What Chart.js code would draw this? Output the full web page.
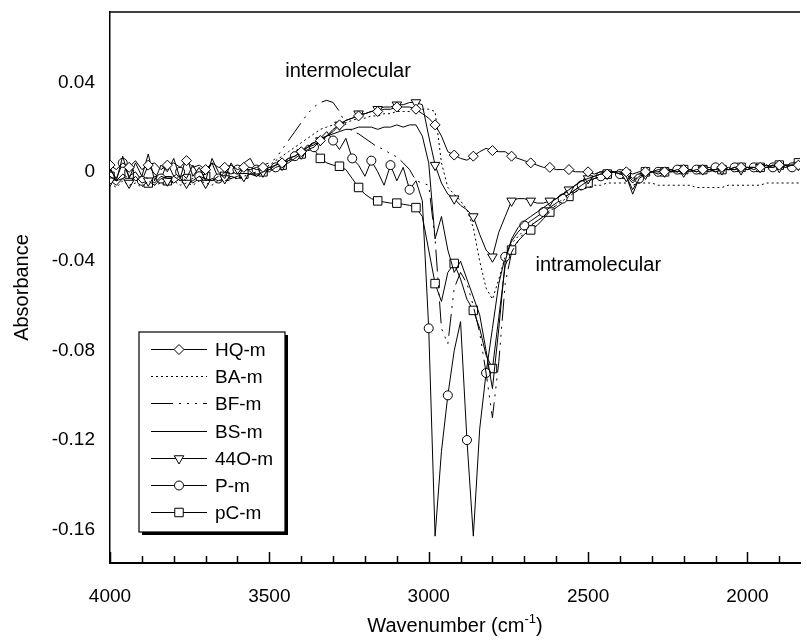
<!DOCTYPE html>
<html>
<head>
<meta charset="utf-8">
<script src="https://cdn.jsdelivr.net/npm/chart.js@4.4.1/dist/chart.umd.min.js"></script>
<style>
  html, body { margin: 0; padding: 0; background: #fff; }
  #wrap { width: 807px; height: 643px; position: relative; }
</style>
</head>
<body>
<div id="wrap"><canvas id="irchart"></canvas></div>
<script>
// Data block (every 20 cm-1)
const wavenumbers = [
  4000, 3980, 3960, 3940, 3920, 3900, 3880, 3860, 3840, 3820,
  3800, 3780, 3760, 3740, 3720, 3700, 3680, 3660, 3640, 3620,
  3600, 3580, 3560, 3540, 3520, 3500, 3480, 3460, 3440, 3420,
  3400, 3380, 3360, 3340, 3320, 3300, 3280, 3260, 3240, 3220,
  3200, 3180, 3160, 3140, 3120, 3100, 3080, 3060, 3040, 3020,
  3000, 2980, 2960, 2940, 2920, 2900, 2880, 2860, 2840, 2820,
  2800, 2780, 2760, 2740, 2720, 2700, 2680, 2660, 2640, 2620,
  2600, 2580, 2560, 2540, 2520, 2500, 2480, 2460, 2440, 2420,
  2400, 2380, 2360, 2340, 2320, 2300, 2280, 2260, 2240, 2220,
  2200, 2180, 2160, 2140, 2120, 2100, 2080, 2060, 2040, 2020,
  2000, 1980, 1960, 1940, 1920, 1900, 1880, 1860, 1840, 1820
];

const hqM = [
  0.003, 0.001, 0.004, 0.002, 0.005, 0.001, 0.003, 0.004, 0.001, 0.003,
  0.004, 0.002, 0.005, 0.002, 0.003, 0.001, 0.004, 0.002, 0.002, 0.003,
  0.001, 0.002, 0.002, 0.001, 0.002, 0.002, 0.003, 0.004, 0.006, 0.007,
  0.009, 0.011, 0.012, 0.014, 0.016, 0.019, 0.021, 0.023, 0.024, 0.025,
  0.026, 0.027, 0.027, 0.028, 0.028, 0.029, 0.029, 0.029, 0.028, 0.026,
  0.024, 0.021, 0.016, 0.009, 0.0075, 0.006, 0.0052, 0.007, 0.009, 0.0105,
  0.0095, 0.009, 0.009, 0.007, 0.006, 0.005, 0.004, 0.003, 0.002, 0.002,
  0.001, 0.001, 0.001, 0, 0, 0, -0.001, 0, -0.001, 0,
  -0.001, 0, -0.001, 0, 0, 0, 0.001, 0, 0.001, 0,
  0.001, 0.001, 0, 0.001, 0.001, 0.001, 0.002, 0.001, 0.001, 0.002,
  0.001, 0.002, 0.002, 0.002, 0.002, 0.003, 0.002, 0.003, 0.003, 0.003
];

const baM = [
  -0.005, -0.007, -0.004, -0.006, -0.005, -0.007, -0.004, -0.006, -0.005, -0.006,
  -0.004, -0.006, -0.005, -0.006, -0.004, -0.005, -0.006, -0.004, -0.004, -0.003,
  -0.003, -0.002, -0.001, 0, 0.001, 0.003, 0.005, 0.007, 0.009, 0.011,
  0.013, 0.015, 0.017, 0.019, 0.020, 0.021, 0.022, 0.022, 0.023, 0.024,
  0.024, 0.025, 0.025, 0.026, 0.026, 0.027, 0.027, 0.027, 0.028, 0.028,
  0.028, 0.027, 0.004, -0.007, -0.010, -0.013, -0.017, -0.025, -0.040, -0.052,
  -0.057, -0.048, -0.038, -0.032, -0.029, -0.026, -0.024, -0.022, -0.020, -0.018,
  -0.015, -0.013, -0.011, -0.009, -0.008, -0.007, -0.006, -0.006, -0.005, -0.005,
  -0.005, -0.005, -0.006, -0.005, -0.005, -0.005, -0.006, -0.006, -0.006, -0.006,
  -0.006, -0.006, -0.007, -0.007, -0.007, -0.007, -0.007, -0.006, -0.006, -0.006,
  -0.006, -0.006, -0.006, -0.005, -0.005, -0.005, -0.005, -0.005, -0.005, -0.005
];

const bfM = [
  -0.002, -0.004, -0.001, -0.003, -0.004, -0.002, -0.003, -0.005, -0.002, -0.003,
  -0.003, -0.002, -0.004, -0.003, -0.002, -0.003, -0.004, -0.002, -0.001, -0.001,
  0, 0.001, 0.001, 0.002, 0.003, 0.004, 0.006, 0.010, 0.014, 0.018,
  0.022, 0.026, 0.029, 0.031, 0.032, 0.031, 0.027, 0.021, 0.018, 0.017,
  0.015, 0.013, 0.011, 0.010, 0.008, 0.0067, 0.004, 0.001, -0.004, -0.005,
  -0.006, -0.030, -0.070, -0.077, -0.052, -0.045, -0.050, -0.060, -0.072, -0.090,
  -0.110, -0.085, -0.050, -0.036, -0.031, -0.027, -0.024, -0.022, -0.020, -0.017,
  -0.015, -0.012, -0.010, -0.008, -0.006, -0.004, -0.003, -0.002, -0.001, 0,
  0, -0.001, -0.004, -0.002, -0.001, 0, 0, 0, 0.001, 0,
  0.001, 0, 0.001, 0.001, 0.001, 0.001, 0.002, 0.001, 0.002, 0.002,
  0.002, 0.002, 0.002, 0.003, 0.002, 0.003, 0.003, 0.003, 0.003, 0.003
];

const bsM = [
  0.002, -0.004, 0.007, -0.003, 0.004, -0.002, 0.008, -0.004, 0.003, 0,
  0.006, -0.003, 0.007, -0.002, 0.002, -0.004, 0.006, 0, -0.003, 0.004,
  -0.001, 0.003, 0, -0.002, 0, 0.001, 0.003, 0.004, 0.006, 0.007,
  0.009, 0.011, 0.013, 0.015, 0.016, 0.017, 0.018, 0.019, 0.019, 0.020,
  0.020, 0.020, 0.019, 0.020, 0.020, 0.021, 0.020, 0.021, 0.021, 0.016,
  0.004, -0.030, -0.020, -0.035, -0.045, -0.040, -0.048, -0.056, -0.064, -0.080,
  -0.097, -0.070, -0.040, -0.030, -0.025, -0.022, -0.020, -0.018, -0.016, -0.014,
  -0.012, -0.010, -0.008, -0.006, -0.004, -0.003, -0.002, -0.001, 0, 0,
  0, -0.002, -0.010, -0.003, -0.001, 0, 0, 0.001, 0, 0,
  0.001, 0, 0.001, 0.001, 0, 0.001, 0.002, 0.001, 0.001, 0.002,
  0.002, 0.002, 0.001, 0.002, 0.003, 0.002, 0.003, 0.003, 0.003, 0.004
];

const o44M = [
  -0.004, -0.006, -0.003, -0.005, -0.002, -0.005, -0.004, -0.006, -0.003, -0.004,
  -0.005, -0.003, -0.005, -0.004, -0.002, -0.005, -0.003, -0.004, -0.003, -0.002,
  -0.003, -0.002, -0.001, -0.002, 0, 0, 0.002, 0.003, 0.004, 0.006,
  0.008, 0.010, 0.011, 0.014, 0.016, 0.018, 0.021, 0.023, 0.024, 0.026,
  0.026, 0.027, 0.028, 0.029, 0.029, 0.030, 0.030, 0.031, 0.031, 0.030,
  0.016, 0.003, -0.005, -0.010, -0.012, -0.015, -0.017, -0.020, -0.028, -0.035,
  -0.038, -0.027, -0.020, -0.013, -0.012, -0.012, -0.013, -0.014, -0.014, -0.013,
  -0.012, -0.010, -0.008, -0.006, -0.004, -0.003, -0.002, -0.001, -0.001, 0,
  -0.001, -0.002, -0.005, -0.002, -0.001, 0, -0.001, 0, 0, 0.001,
  0, 0.001, 0, 0.001, 0.001, 0, 0.001, 0.001, 0.002, 0.001,
  0.002, 0.001, 0.002, 0.002, 0.003, 0.002, 0.003, 0.003, 0.003, 0.004
];

const pM = [
  0.001, -0.003, 0.004, -0.002, 0, -0.004, 0.003, -0.001, -0.003, 0.004,
  -0.002, 0, -0.003, 0.003, -0.002, -0.001, 0.004, -0.003, 0, -0.001,
  0.001, 0.004, 0.006, 0.001, 0, 0.002, 0.002, 0.004, 0.005, 0.007,
  0.009, 0.012, 0.011, 0.015, 0.018, 0.014, 0.010, 0.015, 0.006, 0.003,
  -0.002, 0.005, 0, -0.006, 0.003, -0.004, 0.002, -0.008, -0.004, -0.013,
  -0.070, -0.163, -0.125, -0.100, -0.080, -0.067, -0.120, -0.163, -0.115, -0.090,
  -0.070, -0.050, -0.038, -0.031, -0.027, -0.024, -0.022, -0.020, -0.018, -0.016,
  -0.014, -0.012, -0.010, -0.008, -0.006, -0.004, -0.003, -0.002, -0.001, 0,
  -0.001, -0.002, -0.008, -0.003, -0.001, 0, 0, 0.001, 0, 0.001,
  0, 0.001, 0.001, 0, 0.001, 0.002, 0.001, 0.001, 0.002, 0.002,
  0.001, 0.002, 0.002, 0.003, 0.002, 0.003, 0.003, 0.002, 0.003, 0.004
];

const pcM = [
  -0.002, -0.004, -0.003, -0.001, -0.004, -0.003, -0.005, -0.002, -0.003, -0.004,
  -0.002, -0.004, -0.003, -0.005, -0.003, -0.002, -0.004, -0.003, -0.002, -0.003,
  -0.002, -0.001, -0.001, -0.001, 0, 0.001, 0.002, 0.003, 0.005, 0.006,
  0.008, 0.0095, 0.010, 0.006, 0.004, 0.003, 0.0025, 0.001, -0.003, -0.007,
  -0.010, -0.012, -0.013, -0.0135, -0.014, -0.014, -0.0145, -0.015, -0.016, -0.020,
  -0.035, -0.050, -0.058, -0.045, -0.041, -0.048, -0.057, -0.062, -0.070, -0.082,
  -0.088, -0.065, -0.042, -0.035, -0.031, -0.028, -0.026, -0.024, -0.021, -0.018,
  -0.016, -0.014, -0.011, -0.009, -0.007, -0.005, -0.003, -0.002, -0.001, 0,
  0, -0.001, -0.003, -0.001, 0, 0, 0.001, 0, 0.001, 0,
  0.001, 0.001, 0, 0.001, 0.002, 0.001, 0.001, 0.002, 0.001, 0.002,
  0.002, 0.001, 0.002, 0.003, 0.002, 0.003, 0.002, 0.003, 0.004, 0.003
];

const seriesLabels = ['HQ-m', 'BA-m', 'BF-m', 'BS-m', '44O-m', 'P-m', 'pC-m'];
const xTickValues = [4000, 3500, 3000, 2500, 2000];
const yTickValues = [-0.16, -0.12, -0.08, -0.04, 0, 0.04];

const FONT = "'Liberation Sans', Arial, Helvetica, sans-serif";
Chart.defaults.color = '#000';
Chart.defaults.font.family = FONT;

function toPoints(values) {
    return values.map((v, i) => ({x: wavenumbers[i], y: v}));
}

// marker on every third sample
function markerEvery(phase, r) {
    return ctx => (ctx.dataIndex % 3 === phase ? r : 0);
}

function makeSet(label, values, extra) {
    return Object.assign({
        label: label,
        data: toPoints(values),
        borderColor: '#000',
        borderWidth: 1,
        pointRadius: 0,
        pointHoverRadius: 0,
        pointBackgroundColor: '#fff',
        pointBorderColor: '#000',
        pointBorderWidth: 1,
        tension: 0,
        fill: false
    }, extra);
}

const irData = {
    datasets: [
        makeSet(seriesLabels[0], hqM, {pointStyle: 'rectRot', markerRadius: 5, pointRadius: markerEvery(0, 5)}),
        makeSet(seriesLabels[1], baM, {borderDash: [2, 3]}),
        makeSet(seriesLabels[2], bfM, {borderDash: [22, 6, 2, 6, 2, 6, 2, 6]}),
        makeSet(seriesLabels[3], bsM, {}),
        makeSet(seriesLabels[4], o44M, {pointStyle: 'triangle', pointRotation: 180, markerRadius: 5.5, pointRadius: markerEvery(0, 5.5)}),
        makeSet(seriesLabels[5], pM, {pointStyle: 'circle', markerRadius: 4.5, pointRadius: markerEvery(2, 4.5)}),
        makeSet(seriesLabels[6], pcM, {pointStyle: 'rect', markerRadius: 6, pointRadius: markerEvery(0, 6)})
    ]
};

// Frame: top border line + inward tick marks on the wavenumber axis
const frameTicks = {
    id: 'frameTicks',
    afterDraw(chart) {
        const {ctx, chartArea: a} = chart;
        const x = chart.scales.x;
        ctx.save();
        ctx.strokeStyle = '#000';
        ctx.lineWidth = 1.5;
        ctx.beginPath();
        ctx.moveTo(a.left, a.top);
        ctx.lineTo(a.right, a.top);
        ctx.stroke();
        for (let v = 4000; v >= x.min; v -= 100) {
            const px = Math.round(x.getPixelForValue(v)) + 0.5;
            const len = v % 500 === 0 ? 11 : 7;
            ctx.beginPath();
            ctx.moveTo(px, a.bottom);
            ctx.lineTo(px, a.bottom - len);
            ctx.stroke();
        }
        ctx.restore();
    }
};

// Text labels placed in data space + x axis title with superscript
const textLabels = {
    id: 'textLabels',
    afterDraw(chart) {
        const {ctx, chartArea: a} = chart;
        const x = chart.scales.x, y = chart.scales.y;
        ctx.save();
        ctx.fillStyle = '#000';
        ctx.textBaseline = 'middle';
        ctx.textAlign = 'left';
        ctx.font = `20px ${FONT}`;
        ctx.fillText('intermolecular', x.getPixelForValue(3450), y.getPixelForValue(0.045));
        ctx.fillText('intramolecular', x.getPixelForValue(2665), y.getPixelForValue(-0.042));

        // axis title: Wavenumber (cm-1)
        const main = 'Wavenumber (cm', sup = '-1', close = ')';
        ctx.font = `20px ${FONT}`;
        const w1 = ctx.measureText(main).width, w3 = ctx.measureText(close).width;
        ctx.font = `13px ${FONT}`;
        const w2 = ctx.measureText(sup).width;
        let tx = (a.left + a.right) / 2 - (w1 + w2 + w3) / 2;
        const ty = 626;
        ctx.font = `20px ${FONT}`;
        ctx.fillText(main, tx, ty);
        ctx.font = `13px ${FONT}`;
        ctx.fillText(sup, tx + w1, ty - 7);
        ctx.font = `20px ${FONT}`;
        ctx.fillText(close, tx + w1 + w2, ty);
        ctx.restore();
    }
};

// Boxed legend with drop shadow inside the plot
const boxLegend = {
    id: 'boxLegend',
    afterDraw(chart) {
        const {ctx, chartArea: a} = chart;
        const left = a.left + 29, top = a.top + 320, w = 146, h = 200;
        ctx.save();
        ctx.fillStyle = '#000';
        ctx.fillRect(left + 3, top + 3, w, h);
        ctx.fillStyle = '#fff';
        ctx.fillRect(left, top, w, h);
        ctx.strokeStyle = '#000';
        ctx.lineWidth = 1.2;
        ctx.strokeRect(left, top, w, h);
        chart.data.datasets.forEach((ds, i) => {
            const yy = Math.round(top + 17 + i * 27.2) + 0.5;
            ctx.strokeStyle = '#000';
            ctx.lineWidth = 1;
            ctx.setLineDash(ds.borderDash || []);
            ctx.beginPath();
            ctx.moveTo(left + 12, yy);
            ctx.lineTo(left + 68, yy);
            ctx.stroke();
            ctx.setLineDash([]);
            if (ds.markerRadius) {
                ctx.fillStyle = '#fff';
                Chart.helpers.drawPoint(ctx, {
                    pointStyle: ds.pointStyle,
                    rotation: ds.pointRotation || 0,
                    radius: ds.markerRadius,
                    borderWidth: 1
                }, left + 40, yy);
            }
            ctx.fillStyle = '#000';
            ctx.font = `19px ${FONT}`;
            ctx.textAlign = 'left';
            ctx.textBaseline = 'middle';
            ctx.fillText(ds.label, left + 76, yy + 1);
        });
        ctx.restore();
    }
};

const irConfig = {
    type: 'line',
    data: irData,
    options: {
        responsive: true,
        maintainAspectRatio: false,
        animation: false,
        devicePixelRatio: 1,
        events: [],
        layout: {padding: {top: 12, right: 0, left: 0, bottom: 0}},
        plugins: {
            legend: {display: false},
            tooltip: {enabled: false}
        },
        scales: {
            x: {
                type: 'linear',
                reverse: true,
                min: 1835,
                max: 4000,
                afterBuildTicks: scale => { scale.ticks = xTickValues.map(v => ({value: v})); },
                afterFit: scale => {
                    scale.height = 80;
                    scale.paddingLeft = 0;
                    scale.paddingRight = 0;
                },
                grid: {display: false, drawTicks: false},
                border: {display: true, color: '#000', width: 2},
                ticks: {
                    font: {size: 19},
                    padding: 22,
                    maxRotation: 0,
                    autoSkip: false,
                    callback: v => String(v)
                }
            },
            y: {
                min: -0.175,
                max: 0.0715,
                afterBuildTicks: scale => { scale.ticks = yTickValues.map(v => ({value: v})); },
                afterFit: scale => {
                    scale.width = 110;
                    scale.paddingTop = 0;
                    scale.paddingBottom = 0;
                },
                grid: {display: false, drawTicks: false},
                border: {display: true, color: '#000', width: 1.5},
                ticks: {
                    font: {size: 19},
                    padding: 15,
                    callback: v => (v === 0 ? '0' : v.toFixed(2))
                },
                title: {
                    display: true,
                    text: 'Absorbance',
                    font: {size: 20},
                    padding: {top: 10, bottom: 0}
                }
            }
        }
    },
    plugins: [frameTicks, textLabels, boxLegend]
};

const irChart = new Chart(document.getElementById('irchart'), irConfig);
</script>
</body>
</html>
